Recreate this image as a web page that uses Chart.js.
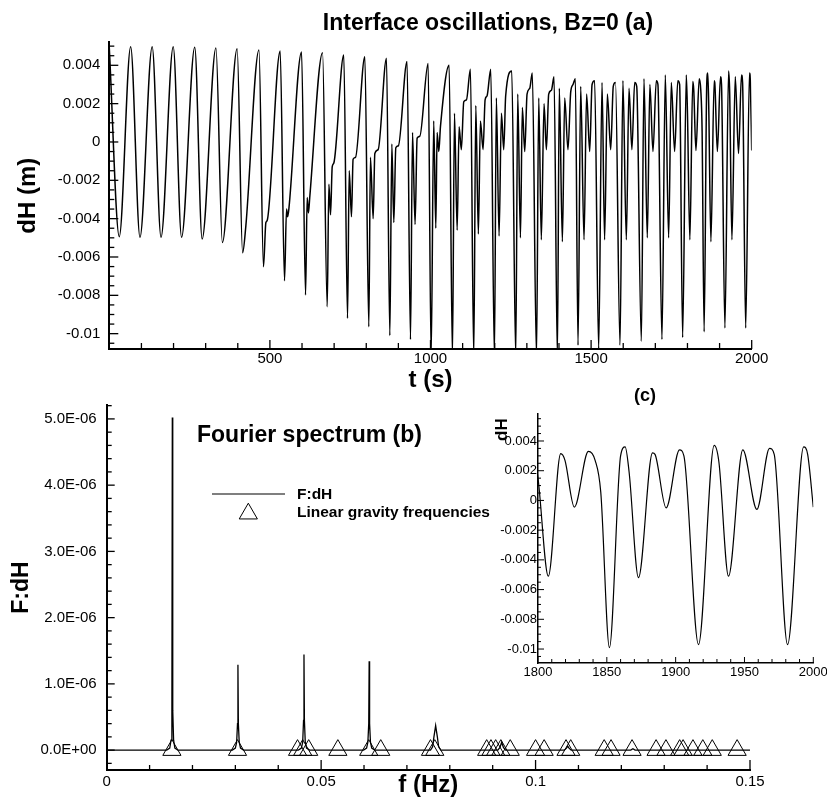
<!DOCTYPE html>
<html>
<head>
<meta charset="utf-8">
<title>Interface oscillations, Bz=0</title>
<script src="https://cdn.jsdelivr.net/npm/chart.js"></script>
<style>
  body { margin: 0; background: #fff; }
  #wrap { position: relative; width: 827px; height: 798px; overflow: hidden; }
  canvas { position: absolute; }
</style>
</head>
<body>
<div id="wrap">
  <canvas id="chartTime" width="827" height="400" style="left:0;top:0"></canvas>
  <canvas id="chartSpectrum" width="827" height="418" style="left:0;top:380px"></canvas>
  <canvas id="chartZoom" width="387" height="305" style="left:440px;top:380px"></canvas>
</div>
<script>
// time series dH(t) (a) and inset (c)
const timeS = [
  0, 31, 66.5, 95.5, 133.5, 161, 199, 225, 266, 289, 332, 352, 398, 415, 425, 466, 480, 487.5, 491.5, 532, 545.5, 551.8, 555, 559, 598.6, 611, 616, 620, 624, 664,
  678.4, 683.6, 688.8, 694, 699, 730,
  741.7, 746.9, 754, 759, 766.6, 795.6,
  808, 813, 821.5, 826.7, 837, 863,
  873.4, 879.6, 885.8, 892, 900, 927,
  937.7, 944, 952, 958.4, 966.7, 992.6,
  1002, 1010, 1016.5, 1020.6, 1025.8, 1031, 1058,
  1068.3, 1074.6, 1083, 1089, 1096, 1103.6, 1112, 1124.3,
  1134.7, 1141, 1149, 1155.4, 1163.7, 1170, 1176, 1187.6,
  1199, 1205, 1213.5, 1220.8, 1228, 1234, 1253,
  1265.4, 1271.6, 1280, 1286, 1293.4, 1300.6, 1309, 1317,
  1330, 1337, 1345, 1353.5, 1360.8, 1368, 1376.4, 1384.6,
  1395, 1401, 1410.6, 1417.8, 1428, 1436.5, 1443.8, 1451,
  1459.3, 1467.6, 1478, 1486, 1495.6, 1503, 1511,
  1523.6, 1534, 1542, 1550.6, 1561, 1569, 1576,
  1590, 1599, 1609.7, 1618, 1627, 1635.6, 1642,
  1656.4, 1664.6, 1675, 1683, 1692.6, 1703, 1708,
  1720.6, 1731, 1741.4, 1749.7, 1760, 1770, 1775.6,
  1785, 1796.3, 1800, 1807.5, 1816.5, 1819.6, 1826.4, 1836.6, 1841.5, 1845.6,
  1851.9, 1860, 1863.3, 1866.2, 1873, 1883.2, 1885, 1893.1, 1902.8, 1906,
  1916.6, 1928, 1931.4, 1938.4, 1948.8, 1959, 1968.2, 1971.6,
  1981.3, 1993, 1995.9, 2000
];
const dHm = [
  0.0049, -0.00494, 0.00497, -0.00497, 0.00497, -0.00497, 0.00497, -0.00497, 0.00494, -0.00506, 0.0049, -0.00525, 0.00487, -0.00578, -0.0044, 0.0048, -0.00651, -0.0042, -0.0041, 0.00475, -0.00724, -0.0035, -0.0039, -0.0035, 0.0047, -0.00798, -0.0029, -0.0037, -0.0029, 0.00466,
  -0.0086, -0.0022, -0.0038, -0.0013, -0.0011, 0.00454,
  -0.0092, -0.0015, -0.0039, -0.0009, -0.0008, 0.00445,
  -0.00964, -0.0008, -0.004, -0.0006, -0.0004, 0.00437,
  -0.0101, -0.0001, -0.0042, -0.0003, -0.0002, 0.0042,
  -0.0103, 0.0005, -0.0043, 0.0002, 0.0003, 0.0041,
  -0.0112, 0.0011, -0.0045, 0.0005, -0.0005, 0.0008, 0.004,
  -0.0112, 0.0015, -0.0046, 0.0008, -0.0004, 0.0021, 0.0022, 0.0038,
  -0.0112, 0.0019, -0.0048, 0.0011, -0.0004, 0.0022, 0.0024, 0.0038,
  -0.0112, 0.0023, -0.0049, 0.0015, -0.0004, 0.0024, 0.0037,
  -0.0112, 0.0025, -0.005, 0.0018, -0.0005, 0.0025, 0.0028, 0.0036,
  -0.0112, 0.0023, -0.0051, 0.002, -0.0004, 0.0025, 0.0027, 0.0034,
  -0.0112, 0.0028, -0.0052, 0.0023, -0.0004, 0.0026, 0.003, 0.0033,
  -0.0106, 0.0029, -0.0051, 0.0025, -0.0005, 0.003, 0.0032,
  -0.0108, 0.0031, -0.0051, 0.0025, -0.0004, 0.0029, 0.0031,
  -0.0106, 0.0032, -0.0051, 0.0028, -0.0004, 0.0031, 0.0029,
  -0.0104, 0.0033, -0.005, 0.003, -0.0005, 0.0032, 0.003,
  -0.0103, 0.0035, -0.005, 0.0031, -0.0005, 0.0032, 0.003,
  -0.0102, 0.0035, 0.0015, -0.0051, 0.00315, 0.0027, -0.00045, 0.0033, 0.0027, 0.00056,
  -0.0099, 0.003, 0.0036, 0.0019, -0.0052, 0.0032, 0.0031, -0.0005, 0.0034, 0.003,
  -0.0097, 0.0037, 0.0026, -0.0051, 0.0034, -0.0006, 0.0035, 0.0031,
  -0.0097, 0.0036, 0.0031, -0.00045
];

// Fourier spectrum F:dH(f), panel (b)
const freqHz = [
  0,
  0.014, 0.0147, 0.015, 0.0152, 0.0153, 0.0154, 0.0156, 0.0159, 0.0166,
  0.0293, 0.03, 0.0303, 0.0305, 0.0306, 0.0307, 0.0309, 0.0312, 0.0319,
  0.0447, 0.0454, 0.0457, 0.0459, 0.046, 0.0461, 0.0463, 0.0466, 0.0473,
  0.0599, 0.0606, 0.0609, 0.0611, 0.0612, 0.0613, 0.0615, 0.0618, 0.0625,
  0.0755, 0.076, 0.0763, 0.0767, 0.0771, 0.0774, 0.0779,
  0.0912, 0.0917, 0.0921, 0.0925, 0.093,
  0.1067, 0.1072, 0.1075, 0.1078, 0.1083,
  0.1222, 0.1227, 0.1232,
  0.15
];
const ampF = [
  0,
  0, 0.03e-6, 0.15e-6, 0.6e-6, 5.02e-6, 0.6e-6, 0.15e-6, 0.03e-6, 0,
  0, 0.03e-6, 0.12e-6, 0.4e-6, 1.29e-6, 0.4e-6, 0.12e-6, 0.03e-6, 0,
  0, 0.03e-6, 0.12e-6, 0.45e-6, 1.445e-6, 0.45e-6, 0.12e-6, 0.03e-6, 0,
  0, 0.03e-6, 0.12e-6, 0.4e-6, 1.34e-6, 0.4e-6, 0.12e-6, 0.03e-6, 0,
  0, 0.05e-6, 0.2e-6, 0.37e-6, 0.2e-6, 0.05e-6, 0,
  0, 0.04e-6, 0.12e-6, 0.04e-6, 0,
  0, 0.03e-6, 0.06e-6, 0.03e-6, 0,
  0, 0.02e-6, 0,
  0
];
const gravityFreqs = [
  0.0152, 0.0305, 0.0445, 0.0457, 0.0471, 0.0539, 0.0611, 0.0639, 0.0755, 0.0765,
  0.0886, 0.0896, 0.0907, 0.0919, 0.0941, 0.1, 0.102, 0.1071, 0.1082, 0.116,
  0.1176, 0.1225, 0.1281, 0.1304, 0.1336, 0.1344, 0.1367, 0.139, 0.1412, 0.147
];

// tick labels
const timeTicks = [500, 1000, 1500, 2000];
const timeTickLabels = ['500', '1000', '1500', '2000'];
const dHTicks = [0.004, 0.002, 0, -0.002, -0.004, -0.006, -0.008, -0.01];
const dHTickLabels = ['0.004', '0.002', '0', '-0.002', '-0.004', '-0.006', '-0.008', '-0.01'];
const freqTicks = [0, 0.05, 0.1, 0.15];
const freqTickLabels = ['0', '0.05', '0.1', '0.15'];
const ampTicks = [0, 1e-6, 2e-6, 3e-6, 4e-6, 5e-6];
const ampTickLabels = ['0.0E+00', '1.0E-06', '2.0E-06', '3.0E-06', '4.0E-06', '5.0E-06'];
const zoomTimeTicks = [1800, 1850, 1900, 1950, 2000];
const zoomTimeTickLabels = ['1800', '1850', '1900', '1950', '2000'];

Chart.defaults.font.family = "'Liberation Sans', Arial, Helvetica, sans-serif";
Chart.defaults.color = '#000';

// linear axis with minor ticks every `step`, labels only on the majors
const makeAxis = (s) => ({
  type: 'linear',
  position: s.position,
  min: s.min,
  max: s.max,
  grid: { display: false, drawTicks: false },
  border: { display: true, color: '#000', width: s.line },
  ticks: {
    autoSkip: false,
    maxRotation: 0,
    padding: s.pad,
    color: '#000',
    font: { size: s.font },
    callback: (v, i, ticks) => ticks[i].text || ''
  },
  title: s.title,
  afterBuildTicks: (scale) => {
    const ticks = [];
    const from = Math.ceil(s.min / s.step - 1e-9);
    const to = Math.floor(s.max / s.step + 1e-9);
    for (let i = from; i <= to; i++) {
      const v = Number((i * s.step).toFixed(10));
      const j = s.majors.findIndex(m => Math.abs(m - v) < s.step / 1000);
      ticks.push({ value: v, big: j >= 0, text: j >= 0 ? s.labels[j] : '' });
    }
    scale.ticks = ticks;
  },
  afterFit: (scale) => {
    if (s.position === 'bottom') {
      scale.height = s.size;
      scale.paddingLeft = 0;
      scale.paddingRight = 0;
    } else {
      scale.width = s.size;
      scale.paddingTop = 0;
      scale.paddingBottom = 0;
    }
  }
});

// tick marks pointing into the plot, like the original
const innerTicks = (len) => ({
  id: 'innerTicks',
  afterDraw(chart) {
    const { ctx, chartArea } = chart;
    ctx.save();
    ctx.strokeStyle = '#000';
    ctx.lineWidth = len.width;
    ['x', 'y'].forEach(id => {
      const scale = chart.scales[id];
      scale.ticks.forEach(t => {
        const p = scale.getPixelForValue(t.value);
        ctx.beginPath();
        if (id === 'x') {
          const l = t.big ? len.xMajor : len.xMinor;
          ctx.moveTo(p, chartArea.bottom);
          ctx.lineTo(p, chartArea.bottom - l);
        } else {
          const l = t.big ? len.yMajor : len.yMinor;
          ctx.moveTo(chartArea.left, p);
          ctx.lineTo(chartArea.left + l, p);
        }
        ctx.stroke();
      });
    });
    ctx.restore();
  }
});

const panelText = (items) => ({
  id: 'panelText',
  afterDraw(chart) {
    const ctx = chart.ctx;
    ctx.save();
    ctx.fillStyle = '#000';
    ctx.textBaseline = 'alphabetic';
    items.forEach(it => {
      ctx.font = it.font;
      ctx.textAlign = it.align || 'left';
      ctx.fillText(it.text, it.x, it.y);
    });
    ctx.restore();
  }
});

// legend glyphs of panel (b)
const legendKeys = {
  id: 'legendKeys',
  afterDraw(chart) {
    const ctx = chart.ctx;
    ctx.save();
    ctx.strokeStyle = '#000';
    ctx.lineWidth = 1.2;
    ctx.beginPath();
    ctx.moveTo(212, 114);
    ctx.lineTo(285, 114);
    ctx.stroke();
    const x = 248.3, y = 133.7, r = 10.5;
    ctx.lineWidth = 1;
    ctx.beginPath();
    ctx.moveTo(x, y - r);
    ctx.lineTo(x + r * 0.866, y + r / 2);
    ctx.lineTo(x - r * 0.866, y + r / 2);
    ctx.closePath();
    ctx.stroke();
    ctx.restore();
  }
};

const dHPoints = timeS.map((t, i) => ({ x: t, y: dHm[i] }));
const specPoints = freqHz.map((f, i) => ({ x: f, y: ampF[i] }));
const gravityPoints = gravityFreqs.map(f => ({ x: f, y: 0 }));

const boldTitle = (text, size, pad, extra) => Object.assign({
  display: true, text: text, color: '#000', padding: pad,
  font: { size: size, weight: 'bold' }
}, extra || {});

new Chart(document.getElementById('chartTime'), {
  type: 'line',
  data: {
    datasets: [{
      data: dHPoints,
      borderColor: '#000',
      borderWidth: 1.5,
      pointRadius: 0,
      fill: false,
      cubicInterpolationMode: 'monotone'
    }]
  },
  options: {
    responsive: false,
    animation: false,
    devicePixelRatio: 1,
    layout: { padding: { left: 0, top: 42.3, right: 75.3, bottom: 0 } },
    plugins: { legend: { display: false }, tooltip: { enabled: false } },
    scales: {
      x: makeAxis({ position: 'bottom', min: 0, max: 2000, step: 100, majors: timeTicks, labels: timeTickLabels,
        font: 15, pad: 1, line: 2, size: 51,
        title: boldTitle('t (s)', 24, { top: 0, bottom: 5.6 }) }),
      y: makeAxis({ position: 'left', min: -0.0108, max: 0.0052, step: 0.0005, majors: dHTicks, labels: dHTickLabels,
        font: 15, pad: 9, line: 2, size: 109.3,
        title: boldTitle('dH (m)', 24, { top: 13.6, bottom: 0 }) })
    }
  },
  plugins: [
    innerTicks({ width: 1.3, xMajor: 9, xMinor: 6, yMajor: 9, yMinor: 5 }),
    panelText([{ text: 'Interface oscillations, Bz=0 (a)', x: 488, y: 30, font: 'bold 23px "Liberation Sans", Arial, sans-serif', align: 'center' }])
  ]
});

new Chart(document.getElementById('chartSpectrum'), {
  type: 'line',
  data: {
    datasets: [{
      label: 'F:dH',
      data: specPoints,
      borderColor: '#000',
      borderWidth: 1.3,
      pointRadius: 0,
      fill: false,
      tension: 0
    }, {
      label: 'Linear gravity frequencies',
      data: gravityPoints,
      showLine: false,
      pointStyle: 'triangle',
      pointRadius: 10.5,
      pointBorderWidth: 1,
      pointBorderColor: '#000',
      pointBackgroundColor: 'rgba(0,0,0,0)'
    }]
  },
  options: {
    responsive: false,
    animation: false,
    devicePixelRatio: 1,
    layout: { padding: { left: 0, top: 25, right: 77, bottom: 0 } },
    plugins: { legend: { display: false }, tooltip: { enabled: false } },
    scales: {
      x: makeAxis({ position: 'bottom', min: 0, max: 0.15, step: 0.01, majors: freqTicks, labels: freqTickLabels,
        font: 15, pad: 3, line: 2, size: 28,
        title: boldTitle('f (Hz)', 24, { top: 0, bottom: 1 }, { font: { size: 24, weight: 'bold', lineHeight: 1 } }) }),
      y: makeAxis({ position: 'left', min: -0.3e-6, max: 5.21e-6, step: 0.2e-6, majors: ampTicks, labels: ampTickLabels,
        font: 15, pad: 10, line: 2, size: 106.7,
        title: boldTitle('F:dH', 23, { top: 8.2, bottom: 0 }) })
    }
  },
  plugins: [
    innerTicks({ width: 1.3, xMajor: 10, xMinor: 5, yMajor: 8, yMinor: 5 }),
    legendKeys,
    panelText([
      { text: 'Fourier spectrum (b)', x: 197, y: 62.3, font: 'bold 23px "Liberation Sans", Arial, sans-serif' },
      { text: 'F:dH', x: 297, y: 119.3, font: 'bold 15.5px "Liberation Sans", Arial, sans-serif' },
      { text: 'Linear gravity frequencies', x: 297, y: 136.7, font: 'bold 15.5px "Liberation Sans", Arial, sans-serif' }
    ])
  ]
});

new Chart(document.getElementById('chartZoom'), {
  type: 'line',
  data: {
    datasets: [{
      data: dHPoints,
      borderColor: '#000',
      borderWidth: 1.2,
      pointRadius: 0,
      fill: false,
      cubicInterpolationMode: 'monotone'
    }]
  },
  options: {
    responsive: false,
    animation: false,
    devicePixelRatio: 1,
    layout: { padding: { left: 0, top: 33.5, right: 13.7, bottom: 0 } },
    plugins: { legend: { display: false }, tooltip: { enabled: false } },
    scales: {
      x: makeAxis({ position: 'bottom', min: 1800, max: 2000, step: 10, majors: zoomTimeTicks, labels: zoomTimeTickLabels,
        font: 13, pad: 1.2, line: 1.5, size: 22 }),
      y: makeAxis({ position: 'left', min: -0.01094, max: 0.00585, step: 0.0005, majors: dHTicks, labels: dHTickLabels,
        font: 13, pad: 1, line: 1.5, size: 98,
        // trailing space nudges the top-aligned title down a few pixels
        title: boldTitle('dH ', 17, { top: 51.8, bottom: 0 }, { align: 'end' }) })
    }
  },
  plugins: [
    innerTicks({ width: 1, xMajor: 6, xMinor: 4, yMajor: 6, yMinor: 3 }),
    panelText([{ text: '(c)', x: 205, y: 21.3, font: 'bold 18px "Liberation Sans", Arial, sans-serif', align: 'center' }])
  ]
});
</script>
</body>
</html>
